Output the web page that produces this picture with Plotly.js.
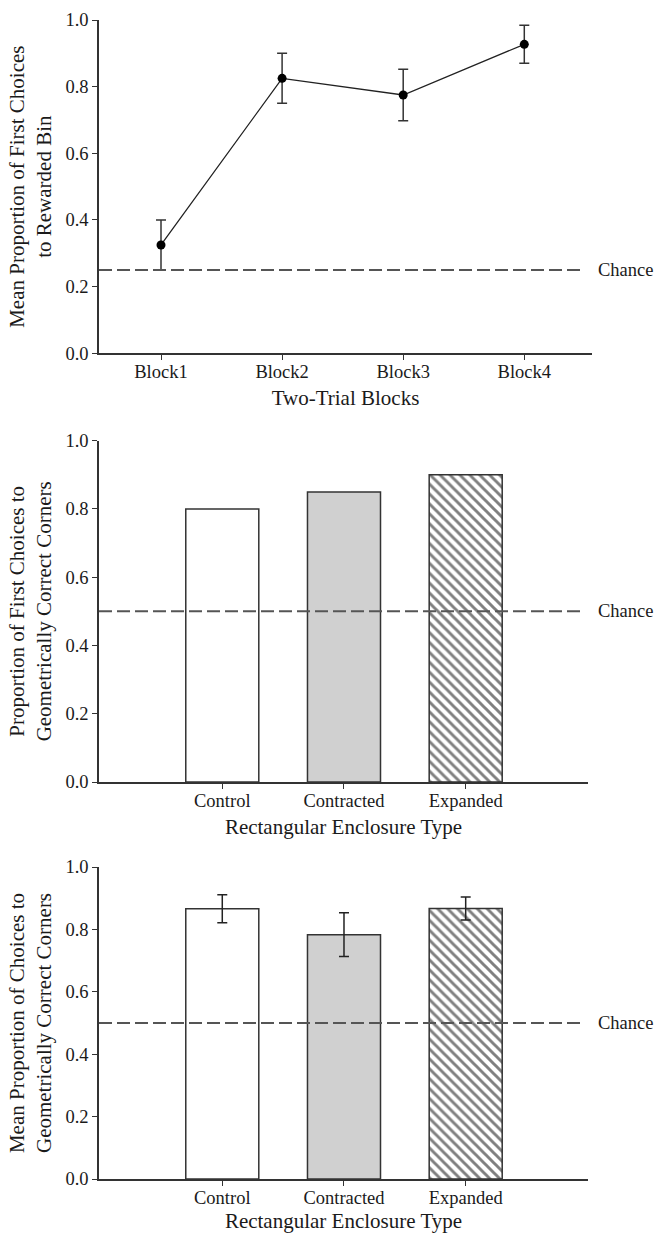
<!DOCTYPE html>
<html><head><meta charset="utf-8">
<script src="https://cdn.plot.ly/plotly-3.0.1.min.js"></script>
<style>html,body{margin:0;padding:0;background:#fff}</style>
</head><body><div id="chart" style="width:666px;height:1233px"></div>
<script>
// ---- data ----
const blocks = ['Block1', 'Block2', 'Block3', 'Block4'];
const blockMeans = [0.325, 0.825, 0.775, 0.927];
const blockErr = [0.075, 0.075, 0.077, 0.057];

const enclosures = ['Control', 'Contracted', 'Expanded'];
const firstChoiceProp = [0.80, 0.85, 0.90];
const allChoiceMeans = [0.866, 0.783, 0.867];
const allChoiceErr = [0.045, 0.07, 0.037];

const chanceLevels = [0.25, 0.5, 0.5];
const yTickVals = [0, 0.2, 0.4, 0.6, 0.8, 1.0];

const panelXTitles = ['Two-Trial Blocks', 'Rectangular Enclosure Type', 'Rectangular Enclosure Type'];
const panelYTitles = [
  'Mean Proportion of First Choices<br>to Rewarded Bin',
  'Proportion of First Choices to<br>Geometrically Correct Corners',
  'Mean Proportion of Choices to<br>Geometrically Correct Corners'
];
const chanceLabel = 'Chance';

// ---- styles ----
const W = 666, H = 1233;
const FONT = 'Liberation Serif, Times New Roman, serif';
const TXT = '#1a1a1a';
const LINE = '#333333';
const barFills = ['#ffffff', '#d0d0d0', '#ffffff'];
const HATCH_INDEX = 2;

function px(x) { return x / W; }
function py(y) { return 1 - y / H; }

function barTraces(values, errs, xa, ya) {
  const out = [];
  enclosures.forEach((cat, i) => {
    const t = {
      type: 'bar', x: [cat], y: [values[i]], xaxis: xa, yaxis: ya,
      width: 0.6, showlegend: false,
      marker: {color: barFills[i], line: {color: LINE, width: 1.5}}
    };
    if (i === HATCH_INDEX) {
      t.marker.pattern = {shape: '\\', fgcolor: '#000', bgcolor: '#ffffff', size: 7, solidity: 0.42, fillmode: 'overlay'};
    }
    if (errs) {
      t.error_y = {type: 'data', array: [errs[i]], visible: true, color: '#222', thickness: 1.5, width: 5};
    }
    out.push(t);
  });
  return out;
}

const traces = [
  {
    type: 'scatter', mode: 'lines+markers',
    x: blocks, y: blockMeans, xaxis: 'x', yaxis: 'y',
    line: {color: '#222', width: 1.3},
    marker: {color: '#000', size: 9},
    error_y: {type: 'data', array: blockErr, visible: true, color: LINE, thickness: 1.5, width: 5},
    showlegend: false
  }
].concat(barTraces(firstChoiceProp, null, 'x2', 'y2'))
 .concat(barTraces(allChoiceMeans, allChoiceErr, 'x3', 'y3'));

function xAxis(domain, range, title, anchor, cats) {
  return {
    domain: domain, range: range, type: 'category', anchor: anchor,
    categoryorder: 'array', categoryarray: cats,
    showline: true, linecolor: LINE, linewidth: 1.5, mirror: false,
    ticks: 'outside', ticklen: 5, tickwidth: 1.2, tickcolor: LINE,
    ticklabelstandoff: -4,
    showgrid: false, zeroline: false, fixedrange: true,
    tickfont: {family: FONT, size: 18.5, color: TXT},
    title: {text: title, font: {family: FONT, size: 21, color: TXT}, standoff: 9}
  };
}
function yAxis(domain, title, anchor) {
  return {
    domain: domain, range: [0, 1], anchor: anchor,
    showline: true, linecolor: LINE, linewidth: 1.5,
    ticks: 'outside', ticklen: 5, tickwidth: 1.2, tickcolor: LINE,
    tickvals: yTickVals, tickformat: '.1f',
    showgrid: false, zeroline: false, fixedrange: true,
    tickfont: {family: FONT, size: 18.5, color: TXT},
    title: {text: title, font: {family: FONT, size: 21, color: TXT}, standoff: 8}
  };
}

const yRefs = ['y', 'y2', 'y3'];
const shapes = chanceLevels.map((c, i) => ({
  type: 'line', xref: (i === 0 ? 'x' : 'x' + (i + 1)) + ' domain', yref: yRefs[i],
  x0: 0, x1: i === 0 ? (585 - 99) / (592 - 99) : (585 - 99) / (588 - 99),
  y0: c, y1: c, layer: 'above',
  line: {color: '#555', width: 2, dash: '13px,5px'}
}));
const annotations = chanceLevels.map((c, i) => ({
  xref: 'paper', yref: yRefs[i], x: px(596), y: c,
  xanchor: 'left', yanchor: 'middle', showarrow: false,
  text: chanceLabel, font: {family: FONT, size: 18.5, color: TXT}
}));

const layout = {
  width: W, height: H,
  margin: {l: 0, r: 0, t: 0, b: 0},
  paper_bgcolor: '#fff', plot_bgcolor: 'rgba(0,0,0,0)',
  showlegend: false, barmode: 'overlay',
  xaxis: xAxis([px(99), px(592)], [-0.512, 3.559], panelXTitles[0], 'y', blocks),
  yaxis: yAxis([py(353.3), py(20)], panelYTitles[0], 'x'),
  xaxis2: xAxis([px(99), px(588)], [-1.013, 3.005], panelXTitles[1], 'y2', enclosures),
  yaxis2: yAxis([py(782), py(440.7)], panelYTitles[1], 'x2'),
  xaxis3: xAxis([px(99), px(588)], [-1.013, 3.005], panelXTitles[2], 'y3', enclosures),
  yaxis3: yAxis([py(1179), py(867)], panelYTitles[2], 'x3'),
  shapes: shapes,
  annotations: annotations
};

Plotly.newPlot('chart', traces, layout, {displayModeBar: false});
</script>
</body></html>
